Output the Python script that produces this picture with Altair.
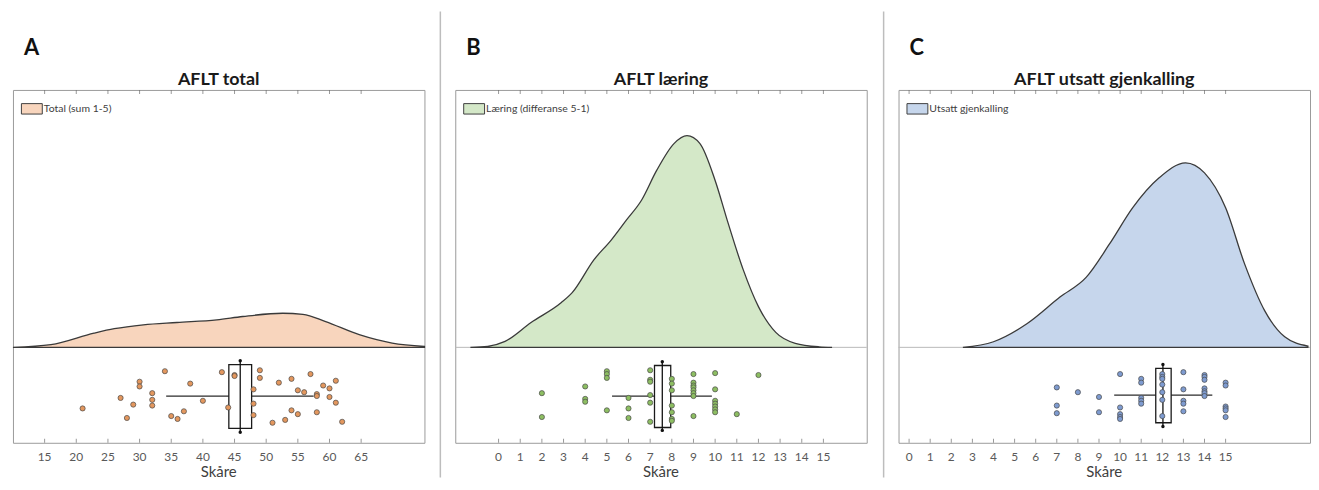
import altair as alt
import pandas as pd

# ---------------- data ----------------
# Panel A: AFLT total
A_DENS_X = [10, 16, 22.8, 26, 30.6, 35.9, 42.2, 46.3, 52.6, 55.8, 59.4, 64.7, 69.9, 75]
A_DENS_Y = [0.0, 0.0021, 0.0109, 0.0143, 0.0173, 0.0191, 0.0211, 0.0237, 0.0262, 0.0254,
            0.0198, 0.0097, 0.0033, 0.0008]
A_SCORES = [21, 27, 28, 29, 30, 30, 32, 32, 32, 34, 35, 36, 37, 38, 40, 43, 44, 45, 45, 48, 48,
            48, 49, 49, 51, 52, 53, 54, 54, 55, 55, 56, 57, 58, 58, 58, 59, 60, 60, 61, 61, 62]
A_JITTER = [0.36, 0.47, 0.26, 0.40, 0.64, 0.59, 0.52, 0.45, 0.39, 0.75, 0.28, 0.25, 0.33, 0.62,
            0.44, 0.74, 0.37, 0.71, 0.70, 0.56, 0.41, 0.29, 0.76, 0.68, 0.21, 0.63, 0.24, 0.67,
            0.34, 0.55, 0.30, 0.53, 0.72, 0.51, 0.49, 0.32, 0.60, 0.57, 0.48, 0.65, 0.42, 0.22]
A_BOX = [34.2, 44.1, 45.9, 47.7, 57.5]          # whisker low, q1, median, q3, whisker high
A_TICKS = [15, 20, 25, 30, 35, 40, 45, 50, 55, 60, 65]

# Panel B: AFLT læring
B_DENS_X = [-1.3, -0.5, 0.3, 1.5, 2.9, 3.4, 4.4, 5.2, 5.9, 6.6, 7.3, 8.1, 8.7, 9.3, 10.0,
            10.6, 11.3, 12.0, 12.8, 13.7, 14.8, 15.4]
B_DENS_Y = [0.0, 0.0008, 0.0046, 0.0191, 0.0344, 0.0420, 0.0672, 0.0824, 0.0977, 0.1130,
            0.1359, 0.1565, 0.1626, 0.1565, 0.1282, 0.0954, 0.0595, 0.0313, 0.0115, 0.0031,
            0.0004, 0.0]
B_SCORES = [2, 2, 4, 4, 4, 5, 5, 5, 5, 6, 6, 6, 7, 7, 7, 7, 7, 7, 8, 8, 8, 8, 8, 8, 8,
            9, 9, 9, 9, 9, 9, 9, 9, 10, 10, 10, 10, 10, 10, 10, 11, 12]
B_JITTER = [0.52, 0.27, 0.59, 0.46, 0.43, 0.75, 0.72, 0.68, 0.34, 0.47, 0.36, 0.26,
            0.76, 0.66, 0.64, 0.50, 0.42, 0.22, 0.67, 0.62, 0.55, 0.39, 0.32, 0.25, 0.23,
            0.72, 0.63, 0.60, 0.58, 0.55, 0.52, 0.49, 0.28, 0.73, 0.56, 0.44, 0.41, 0.38,
            0.35, 0.32, 0.30, 0.71]
B_BOX = [5.24, 7.2, 7.56, 7.95, 9.85]
B_TICKS = list(range(0, 16))

# Panel C: AFLT utsatt gjenkalling
C_DENS_X = [2.55, 4.0, 5.6, 7.15, 8.4, 9.5, 10.6, 11.85, 13.1, 14.0, 15.0, 15.9, 16.85, 17.8, 18.9]
C_DENS_Y = [0.0, 0.0043, 0.0183, 0.0386, 0.0539, 0.0794, 0.1073, 0.1302, 0.1417, 0.1340,
            0.1073, 0.0641, 0.0282, 0.0081, 0.0010]
C_SCORES = [7, 7, 7, 8, 9, 9, 10, 10, 10, 10, 10, 11, 11, 11, 11, 11, 12, 12, 12, 12, 12, 12, 12,
            13, 13, 13, 13, 13, 14, 14, 14, 14, 14, 14, 14, 15, 15, 15, 15, 15, 15]
C_JITTER = [0.58, 0.39, 0.31, 0.53, 0.48, 0.32, 0.72, 0.37, 0.30, 0.27, 0.25, 0.67, 0.63,
            0.47, 0.44, 0.41, 0.72, 0.69, 0.67, 0.61, 0.53, 0.45, 0.28, 0.74, 0.56, 0.44,
            0.41, 0.33, 0.71, 0.69, 0.66, 0.57, 0.54, 0.52, 0.49, 0.63, 0.60, 0.38, 0.36,
            0.34, 0.27]
C_BOX = [9.72, 11.69, 12.03, 12.42, 14.37]
C_TICKS = list(range(0, 16))

AXIS_TITLE = "Skåre"

# ---------------- layout / style ----------------
W, H = 414, 355
YMAX = 0.1977
YMIN = -0.0733
FONT = "Lato"

PANELS = [
    dict(letter="A", title="AFLT total", legend="Total (sum 1-5)", domain=[10, 75],
         dx=A_DENS_X, dy=A_DENS_Y, sx=A_SCORES, sj=A_JITTER, box=A_BOX, ticks=A_TICKS,
         fill="#F8D5BD", pt="#E3975E", boxy=(0.15, 0.82), medy=(0.11, 0.86), wy=0.49,
         sep=1, sepx=W + 16),
    dict(letter="B", title="AFLT læring", legend="Læring (differanse 5-1)", domain=[-2, 17],
         dx=B_DENS_X, dy=B_DENS_Y, sx=B_SCORES, sj=B_JITTER, box=B_BOX, ticks=B_TICKS,
         fill="#D4E8C8", pt="#8DBE62", boxy=(0.16, 0.81), medy=(0.13, 0.85), wy=0.49,
         sep=1, sepx=W + 17),
    dict(letter="C", title="AFLT utsatt gjenkalling", legend="Utsatt gjenkalling", domain=[-0.5, 19],
         dx=C_DENS_X, dy=C_DENS_Y, sx=C_SCORES, sj=C_JITTER, box=C_BOX, ticks=C_TICKS,
         fill="#C6D6EC", pt="#7E9BD0", boxy=(0.21, 0.78), medy=(0.17, 0.82), wy=0.50,
         sep=0, sepx=W / 2),
]


def yv(j):
    return YMIN * (1 - j)


def panel(p):
    xs = alt.Scale(domain=p["domain"], nice=False, zero=False)
    ys = alt.Scale(domain=[YMIN, YMAX], nice=False, zero=False)

    base = alt.Chart(pd.DataFrame({"z": [0.0]})).mark_rule(color="#b8b8b8", strokeWidth=1).encode(
        y=alt.Y("z:Q", scale=ys, axis=None))

    dens = pd.DataFrame({"x": p["dx"], "d": p["dy"], "z": [0.0] * len(p["dx"]),
                         "series": [p["legend"]] * len(p["dx"])})
    area = alt.Chart(dens).mark_area(interpolate="monotone", stroke="#3a3a3a", strokeWidth=1.3,
                                     opacity=1).encode(
        x=alt.X("x:Q", scale=xs, axis=None),
        y=alt.Y("d:Q", scale=ys, axis=None),
        y2="z:Q",
        color=alt.Color("series:N", scale=alt.Scale(range=[p["fill"]]), legend=alt.Legend(
            title=None, orient="top-left", offset=8, padding=0,
            symbolType="M-1,-0.5H1V0.5H-1Z", symbolSize=441, symbolStrokeColor="#404040",
            symbolStrokeWidth=1, symbolOpacity=1, labelFont=FONT, labelFontSize=10.5,
            labelColor="#404040", labelOffset=1)),
    )

    lo, q1, med, q3, hi = p["box"]
    wy = yv(p["wy"])
    whisk = alt.Chart(pd.DataFrame({"a": [lo, q3], "b": [q1, hi], "y": [wy, wy]})).mark_rule(
        color="#2b2b2b", strokeWidth=1.3).encode(
        x=alt.X("a:Q", scale=xs, axis=None), x2="b:Q", y=alt.Y("y:Q", scale=ys, axis=None))
    box = alt.Chart(pd.DataFrame({"a": [q1], "b": [q3], "y0": [yv(p["boxy"][0])],
                                  "y1": [yv(p["boxy"][1])]})).mark_rect(
        fill="white", fillOpacity=0, stroke="#1a1a1a", strokeWidth=1.3).encode(
        x=alt.X("a:Q", scale=xs, axis=None), x2="b:Q",
        y=alt.Y("y0:Q", scale=ys, axis=None), y2="y1:Q")
    medline = alt.Chart(pd.DataFrame({"a": [med], "y0": [yv(p["medy"][0])],
                                      "y1": [yv(p["medy"][1])]})).mark_rule(
        color="#111111", strokeWidth=1.3).encode(
        x=alt.X("a:Q", scale=xs, axis=None), y=alt.Y("y0:Q", scale=ys, axis=None), y2="y1:Q")
    meddots = alt.Chart(pd.DataFrame({"a": [med, med],
                                      "y": [yv(p["medy"][0]), yv(p["medy"][1])]})).mark_circle(
        size=12, color="#111111", opacity=1).encode(
        x=alt.X("a:Q", scale=xs, axis=None), y=alt.Y("y:Q", scale=ys, axis=None))

    pts = pd.DataFrame({"s": p["sx"], "y": [yv(j) for j in p["sj"]]})
    points = alt.Chart(pts).mark_circle(size=27, color=p["pt"], opacity=1, stroke="#4a4a4a",
                                        strokeWidth=0.7).encode(
        x=alt.X("s:Q", scale=xs, axis=None), y=alt.Y("y:Q", scale=ys, axis=None))

    tdf = pd.DataFrame({"t": p["ticks"], "lo": [YMIN] * len(p["ticks"]),
                        "hi": [YMAX] * len(p["ticks"])})
    tick_b = alt.Chart(tdf).mark_tick(orient="vertical", size=4, thickness=1, color="#6e6e6e",
                                      yOffset=-2).encode(
        x=alt.X("t:Q", scale=xs, axis=None), y=alt.Y("lo:Q", scale=ys, axis=None))
    tick_t = alt.Chart(tdf).mark_tick(orient="vertical", size=4, thickness=1, color="#6e6e6e",
                                      yOffset=2).encode(
        x=alt.X("t:Q", scale=xs, axis=None), y=alt.Y("hi:Q", scale=ys, axis=None))
    # tick labels (drawn as text at the bottom edge of the frame)
    tlab = alt.Chart(tdf).mark_text(font=FONT, fontSize=12, color="#595959", baseline="middle",
                                    align="center", dy=14).encode(
        x=alt.X("t:Q", scale=xs, axis=None), y=alt.Y("lo:Q", scale=ys, axis=None), text="t:Q")

    one = pd.DataFrame({"k": [0]})
    xtitle = alt.Chart(one).mark_text(text=AXIS_TITLE, font=FONT, fontSize=15, color="#404040",
                                      align="center", baseline="middle").encode(
        x=alt.value(W / 2), y=alt.value(H + 29))
    letter = alt.Chart(one).mark_text(text=p["letter"], font=FONT, fontSize=22, fontWeight="bold",
                                      color="#111111", align="left", baseline="alphabetic").encode(
        x=alt.value(11), y=alt.value(-35))
    title = alt.Chart(one).mark_text(text=p["title"], font=FONT, fontSize=18, fontWeight="bold",
                                     color="#1a1a1a", align="center", baseline="alphabetic").encode(
        x=alt.value(W / 2), y=alt.value(-5))
    # divider line to the right of the panel (invisible copy on the last panel keeps rows aligned)
    sep = alt.Chart(one).mark_rule(color="#bdbdbd", strokeWidth=1.5, opacity=p["sep"]).encode(
        x=alt.value(p["sepx"]), y=alt.value(-79), y2=alt.value(390))

    layers = [base, area, whisk, box, medline, meddots, points, tick_b, tick_t, tlab, xtitle,
              letter, title, sep]
    return alt.layer(*layers).properties(width=W, height=H)


chart = alt.hconcat(*[panel(p) for p in PANELS], spacing=12).resolve_scale(
    x="independent", y="independent", color="independent"
).properties(
    padding={"left": 1, "top": 0, "right": 0, "bottom": 0}
).configure_view(stroke="#9a9a9a", strokeWidth=1)

chart.save("out.html", embed_options={"renderer": "svg", "actions": False})
